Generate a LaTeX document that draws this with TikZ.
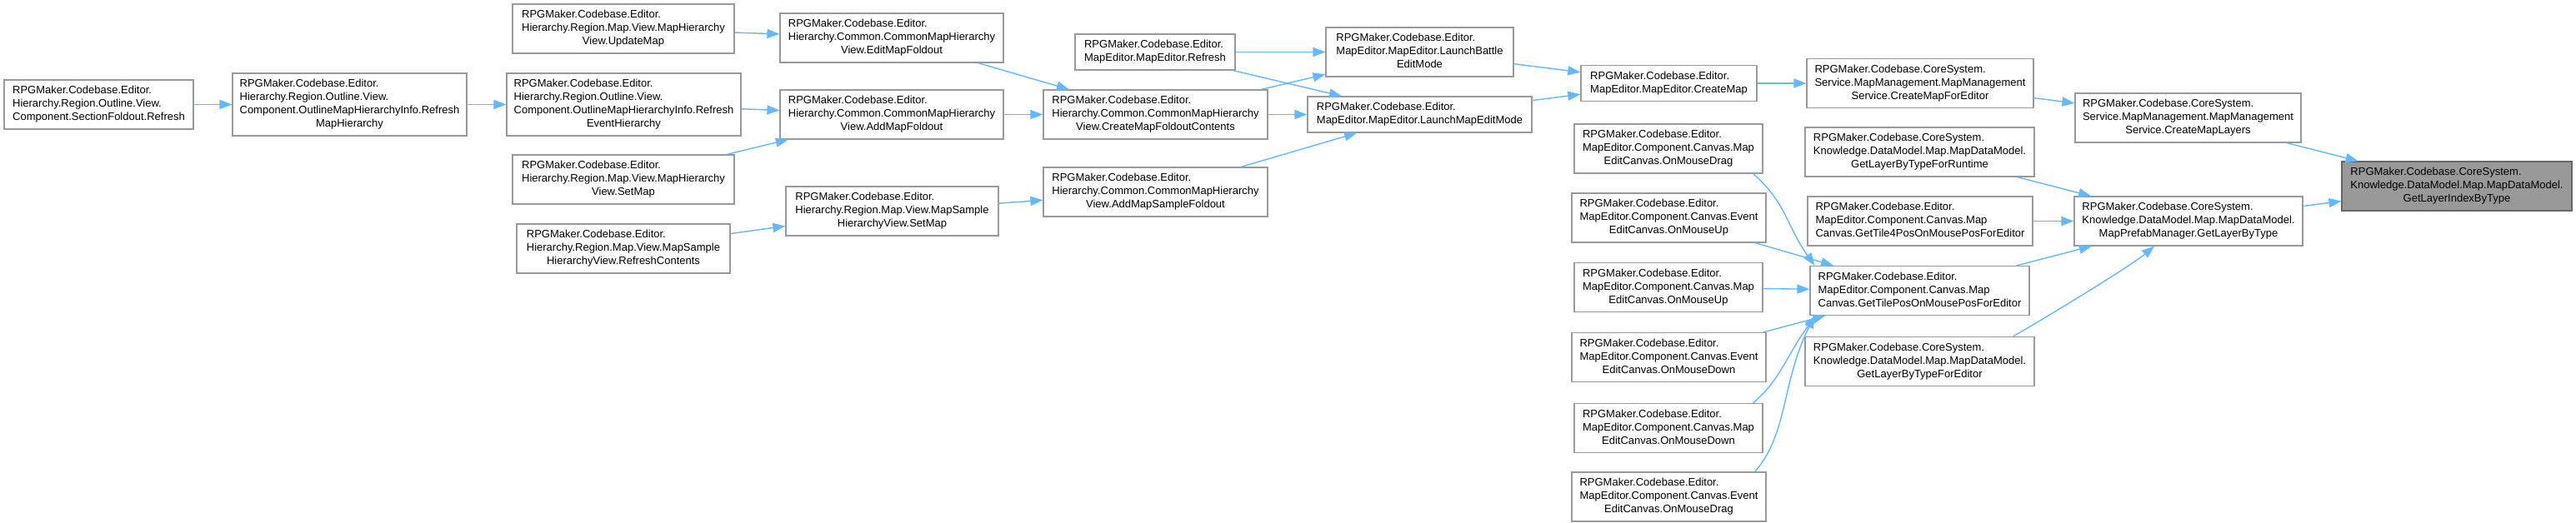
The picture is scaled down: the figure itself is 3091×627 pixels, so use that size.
\documentclass[tikz,border=0pt]{standalone}
\usepackage{fontspec}
\setmainfont{Liberation Sans}
\usetikzlibrary{arrows.meta}
\definecolor{edgeblue}{HTML}{63B8FF}
\definecolor{boxline}{HTML}{999999}
\definecolor{hlfill}{HTML}{999999}
\definecolor{hlline}{HTML}{666666}
\newcommand{\dlab}[2]{\begin{tabular}{@{}l@{}}#1\\\multicolumn{1}{@{}c@{}}{#2}\end{tabular}}
\begin{document}
\begin{tikzpicture}[x=0.5pt,y=-0.5pt,
 box/.style={draw=boxline, line width=0.6pt, fill=white, inner sep=0pt, font=\fontsize{6.5}{8}\selectfont, text=black},
 hl/.style={box, draw=hlline, fill=hlfill},
 h2/.style={minimum height=21.5pt}, h3/.style={minimum height=29.5pt}, h4/.style={minimum height=37.5pt},
 edge/.style={draw=edgeblue, line width=0.7pt, -{Triangle[length=7.5pt,width=5.5pt]}}]
\fill[white] (0,0) rectangle (3091,627);
\useasboundingbox (0,0) rectangle (3091,627);

\node[box,h3,minimum width=113.5pt] (sfr) at (118.5,125.5) {\dlab{RPGMaker.Codebase.Editor.\\Hierarchy.Region.Outline.View.}{Component.SectionFoldout.Refresh}};
\node[box,h4,minimum width=140.5pt] (rmh) at (419.5,125.5) {\dlab{RPGMaker.Codebase.Editor.\\Hierarchy.Region.Outline.View.\\Component.OutlineMapHierarchyInfo.Refresh}{MapHierarchy}};
\node[box,h3,minimum width=133pt] (upd) at (748,34.5) {\dlab{RPGMaker.Codebase.Editor.\\Hierarchy.Region.Map.View.MapHierarchy}{View.UpdateMap}};
\node[box,h4,minimum width=140.5pt] (reh) at (748.5,125.5) {\dlab{RPGMaker.Codebase.Editor.\\Hierarchy.Region.Outline.View.\\Component.OutlineMapHierarchyInfo.Refresh}{EventHierarchy}};
\node[box,h3,minimum width=133pt] (hsm) at (748,215.5) {\dlab{RPGMaker.Codebase.Editor.\\Hierarchy.Region.Map.View.MapHierarchy}{View.SetMap}};
\node[box,h3,minimum width=128pt] (rfc) at (748,298.5) {\dlab{RPGMaker.Codebase.Editor.\\Hierarchy.Region.Map.View.MapSample}{HierarchyView.RefreshContents}};
\node[box,h3,minimum width=134pt] (emf) at (1070,45.5) {\dlab{RPGMaker.Codebase.Editor.\\Hierarchy.Common.CommonMapHierarchy}{View.EditMapFoldout}};
\node[box,h3,minimum width=134pt] (amf) at (1070,137.5) {\dlab{RPGMaker.Codebase.Editor.\\Hierarchy.Common.CommonMapHierarchy}{View.AddMapFoldout}};
\node[box,h3,minimum width=127.5pt] (ssm) at (1070.5,253.5) {\dlab{RPGMaker.Codebase.Editor.\\Hierarchy.Region.Map.View.MapSample}{HierarchyView.SetMap}};
\node[box,h3,minimum width=134.5pt] (cmfc) at (1386.5,137.5) {\dlab{RPGMaker.Codebase.Editor.\\Hierarchy.Common.CommonMapHierarchy}{View.CreateMapFoldoutContents}};
\node[box,h3,minimum width=134.5pt] (amsf) at (1386.5,230.5) {\dlab{RPGMaker.Codebase.Editor.\\Hierarchy.Common.CommonMapHierarchy}{View.AddMapSampleFoldout}};
\node[box,h2,minimum width=96pt] (mer) at (1386,62.5) {\dlab{RPGMaker.Codebase.Editor.}{MapEditor.MapEditor.Refresh}};
\node[box,h3,minimum width=112.5pt] (lbem) at (1703.5,62.5) {\dlab{RPGMaker.Codebase.Editor.\\MapEditor.MapEditor.LaunchBattle}{EditMode}};
\node[box,h2,minimum width=134.5pt] (lmem) at (1703.5,137.5) {\dlab{RPGMaker.Codebase.Editor.}{MapEditor.MapEditor.LaunchMapEditMode}};
\node[box,h2,minimum width=105.5pt] (cm) at (2002.5,100) {\dlab{RPGMaker.Codebase.Editor.}{MapEditor.MapEditor.CreateMap}};
\node[box,h3,minimum width=136pt] (cmfe) at (2304,100) {\dlab{RPGMaker.Codebase.CoreSystem.\\Service.MapManagement.MapManagement}{Service.CreateMapForEditor}};
\node[box,h3,minimum width=135.5pt] (cml) at (2625.5,141.5) {\dlab{RPGMaker.Codebase.CoreSystem.\\Service.MapManagement.MapManagement}{Service.CreateMapLayers}};
\node[hl,h3,minimum width=138pt] (glit) at (2948,223.5) {\dlab{RPGMaker.Codebase.CoreSystem.\\Knowledge.DataModel.Map.MapDataModel.}{GetLayerIndexByType}};
\node[box,h3,minimum width=137pt] (glbt) at (2626,265.5) {\dlab{RPGMaker.Codebase.CoreSystem.\\Knowledge.DataModel.Map.MapDataModel.}{MapPrefabManager.GetLayerByType}};
\node[box,h3,minimum width=137.5pt] (glrt) at (2303.5,182.5) {\dlab{RPGMaker.Codebase.CoreSystem.\\Knowledge.DataModel.Map.MapDataModel.}{GetLayerByTypeForRuntime}};
\node[box,h3,minimum width=135pt] (gt4) at (2304,265.5) {\dlab{RPGMaker.Codebase.Editor.\\MapEditor.Component.Canvas.Map}{Canvas.GetTile4PosOnMousePosForEditor}};
\node[box,h3,minimum width=131.5pt] (gtp) at (2303.5,349) {\dlab{RPGMaker.Codebase.Editor.\\MapEditor.Component.Canvas.Map}{Canvas.GetTilePosOnMousePosForEditor}};
\node[box,h3,minimum width=137.5pt] (gled) at (2303.5,434) {\dlab{RPGMaker.Codebase.CoreSystem.\\Knowledge.DataModel.Map.MapDataModel.}{GetLayerByTypeForEditor}};
\node[box,h3,minimum width=113pt] (mdrag) at (2002,178.5) {\dlab{RPGMaker.Codebase.Editor.\\MapEditor.Component.Canvas.Map}{EditCanvas.OnMouseDrag}};
\node[box,h3,minimum width=116.5pt] (eup) at (2002.5,261.5) {\dlab{RPGMaker.Codebase.Editor.\\MapEditor.Component.Canvas.Event}{EditCanvas.OnMouseUp}};
\node[box,h3,minimum width=113pt] (mup) at (2002,345) {\dlab{RPGMaker.Codebase.Editor.\\MapEditor.Component.Canvas.Map}{EditCanvas.OnMouseUp}};
\node[box,h3,minimum width=116.5pt] (edown) at (2002.5,429) {\dlab{RPGMaker.Codebase.Editor.\\MapEditor.Component.Canvas.Event}{EditCanvas.OnMouseDown}};
\node[box,h3,minimum width=113pt] (mdown) at (2002,514) {\dlab{RPGMaker.Codebase.Editor.\\MapEditor.Component.Canvas.Map}{EditCanvas.OnMouseDown}};
\node[box,h3,minimum width=116.5pt] (edrag) at (2002.5,596.5) {\dlab{RPGMaker.Codebase.Editor.\\MapEditor.Component.Canvas.Event}{EditCanvas.OnMouseDrag}};

\draw[edge] (sfr) -- (rmh);
\draw[edge] (rmh) -- (reh);
\draw[edge] (upd) -- (emf);
\draw[edge] (reh) -- (amf);
\draw[edge] (hsm) -- (amf);
\draw[edge] (rfc) -- (ssm);
\draw[edge] (emf) -- (cmfc);
\draw[edge] (amf) -- (cmfc);
\draw[edge] (ssm) -- (amsf);
\draw[edge] (mer) -- (lbem);
\draw[edge] (mer) -- (lmem);
\draw[edge] (cmfc) -- (lbem);
\draw[edge] (cmfc) -- (lmem);
\draw[edge] (amsf) -- (lmem);
\draw[edge] (lbem) -- (cm);
\draw[edge] (lmem) -- (cm);
\draw[edge] (cm) -- (cmfe);
\draw[edge] (cmfe) -- (cml);
\draw[edge] (cml) -- (glit);
\draw[edge] (glbt) -- (glit);
\draw[edge] (glrt) -- (glbt);
\draw[edge] (gt4) -- (glbt);
\draw[edge] (gtp) -- (glbt);
\draw[edge] ([xshift=-13pt]gled.north east) .. controls +(35,-20) and +(-30,25) .. ([xshift=-20.5pt]glbt.south);
\draw[edge] ([xshift=-6pt]mdrag.south east) .. controls +(40,35) and +(-35,-50) .. ([xshift=3pt]gtp.north west);
\draw[edge] (eup) -- (gtp);
\draw[edge] (mup) -- (gtp);
\draw[edge] (edown) -- (gtp);
\draw[edge] ([xshift=-6pt]mdown.north east) .. controls +(35,-30) and +(-35,45) .. ([xshift=4pt]gtp.south west);
\draw[edge] ([xshift=-7pt]edrag.north east) .. controls +(40,-45) and +(-40,80) .. ([xshift=3pt]gtp.south west);
\end{tikzpicture}
\end{document}
